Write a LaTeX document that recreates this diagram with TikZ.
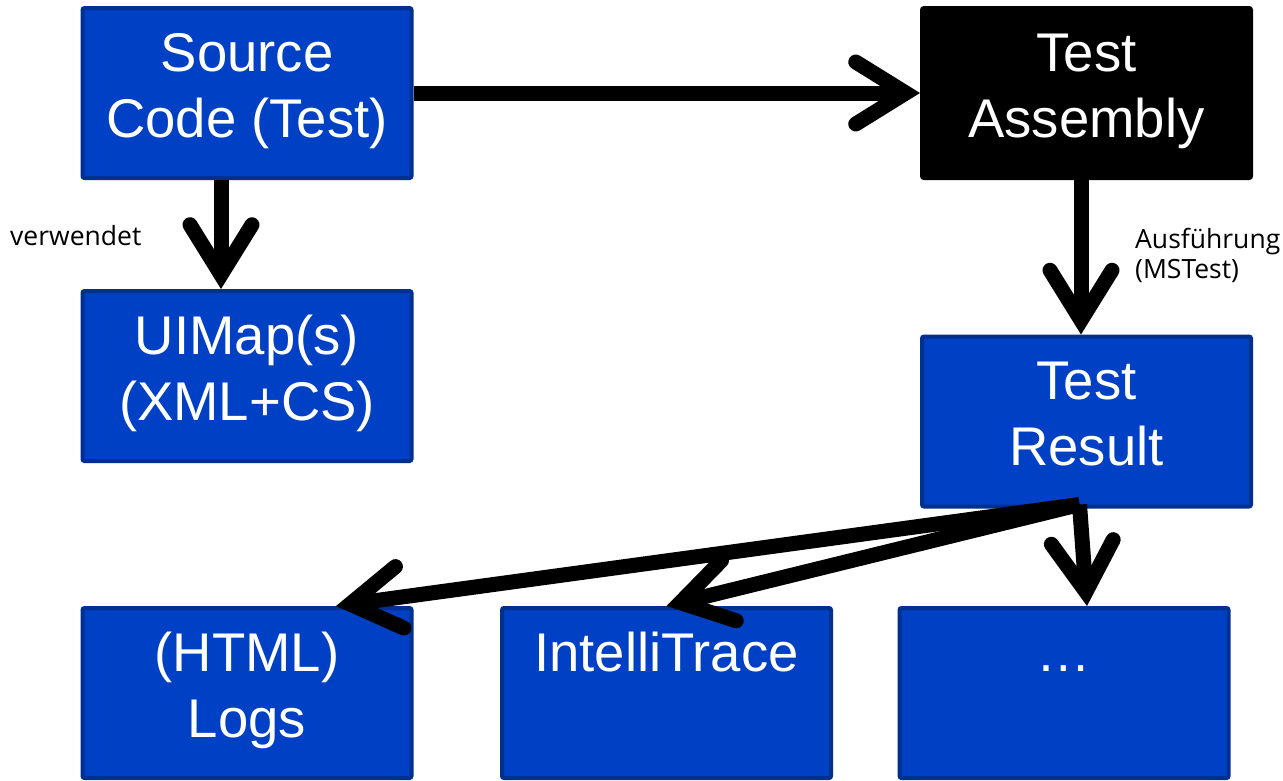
\documentclass[tikz,border=0pt]{standalone}
\usepackage{fontspec}
\setmainfont{Liberation Sans}
\newfontfamily\lblfont{Open Sans}
\usetikzlibrary{arrows.meta}
\definecolor{boxblue}{RGB}{0,64,196}
\definecolor{boxedge}{RGB}{0,48,143}
\newcommand{\boxtxt}[1]{\parbox[c][136pt][t]{325pt}{\centering\fontsize{54.5}{66}\selectfont\strut #1}}
\begin{document}
\begin{tikzpicture}[x=1pt,y=-1pt,
  box/.style={draw=boxedge, fill=boxblue, line width=4pt, rounded corners=2pt,
    minimum width=329pt, minimum height=170pt, inner sep=0pt, text=white},
  darkbox/.style={box, draw=black, fill=black},
  conn/.style={line width=15pt,
    -{Straight Barb[length=50pt,width=62pt,line cap=round,line join=miter]}},
  lbl/.style={font=\lblfont\fontsize{26.5}{30}\selectfont, inner sep=0pt, align=left}]
\useasboundingbox (0,0) rectangle (1283,780);
\fill[white] (0,0) rectangle (1283,780);

\node[box]     (src)  at (247,93)     {\boxtxt{Source\\Code (Test)}};
\node[darkbox] (asm)  at (1086.5,93)  {\boxtxt{Test\\Assembly}};
\node[box]     (ui)   at (247,376)    {\boxtxt{UIMap(s)\\(XML+CS)}};
\node[box]     (res)  at (1086.5,421.5) {\boxtxt{Test\\Result}};
\node[box]     (logs) at (247,693)    {\boxtxt{(HTML)\\Logs}};
\node[box]     (it)   at (666.5,693)  {\boxtxt{IntelliTrace}};
\node[box]     (dots) at (1064,693)   {\boxtxt{\char"2026}};

\node[lbl, anchor=base west] (lverw) at (10,245) {verwendet};
\node[lbl, anchor=north west] (lausf) at (1135,228) {Ausführung\\(MSTest)};

\coordinate (rs) at ([xshift=-7pt,yshift=4pt]res.south);

\draw[conn] (src.east) -- (asm.west);
\draw[conn] ([xshift=-26pt]src.south) -- ([xshift=-26pt]ui.north);
\draw[conn] ([xshift=-5.5pt]asm.south) -- ([xshift=-5.5pt]res.north);
\draw[conn] (rs) -- ([xshift=89pt]logs.north);
\draw[conn] (rs) -- (it.north);
\draw[conn] (rs) -- ([xshift=23pt]dots.north);
\end{tikzpicture}
\end{document}
